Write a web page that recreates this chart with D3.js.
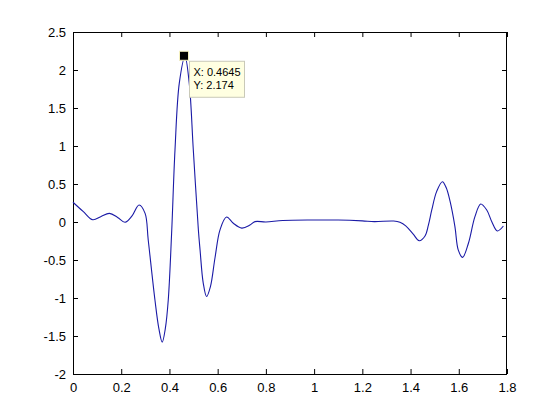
<!DOCTYPE html>
<html>
<head>
<meta charset="utf-8">
<script src="https://cdn.jsdelivr.net/npm/d3@7"></script>
<style>
  body { margin: 0; background: #fff; }
  svg { display: block; font-family: Arial, "Liberation Sans", sans-serif; }
</style>
</head>
<body>
<svg id="chart" width="560" height="420"></svg>
<script>
// signal samples
const xs = [0, 0.043, 0.082, 0.115, 0.151, 0.185, 0.216, 0.245, 0.274, 0.299, 0.312,
  0.34, 0.356, 0.370, 0.383, 0.395, 0.409, 0.423, 0.441, 0.4645, 0.482, 0.499,
  0.52, 0.527, 0.54, 0.554, 0.57, 0.589, 0.61, 0.637, 0.665, 0.70, 0.734, 0.755,
  0.80, 0.87, 1.0, 1.1, 1.2, 1.25, 1.33, 1.356, 1.38, 1.411, 1.436, 1.46, 1.474, 1.488,
  1.508, 1.532, 1.548, 1.564, 1.584, 1.598, 1.616, 1.64, 1.667, 1.691, 1.716, 1.737,
  1.76, 1.785];
const ys = [0.26, 0.136, 0.03, 0.07, 0.114, 0.06, -0.004, 0.08, 0.224, 0.114, -0.237,
  -1.03, -1.40, -1.58, -1.40, -1.03, -0.149, 0.947, 1.83, 2.174, 1.83, 0.947,
  -0.105, -0.368, -0.80, -0.98, -0.85, -0.47, -0.10, 0.065, -0.017, -0.08, -0.04, 0.005,
  0.0, 0.02, 0.026, 0.026, 0.015, 0.005, 0.013, -0.004, -0.05, -0.16, -0.246, -0.184, -0.04, 0.158,
  0.40, 0.53, 0.45, 0.27, -0.06, -0.37, -0.465, -0.28, 0.07, 0.237, 0.158, 0.004,
  -0.118, -0.053];

const xTicks = [0, 0.2, 0.4, 0.6, 0.8, 1, 1.2, 1.4, 1.6, 1.8];
const yTicks = [-2, -1.5, -1, -0.5, 0, 0.5, 1, 1.5, 2, 2.5];

// data tip
const tipX = 0.4645;
const tipY = 2.174;
const tipLines = ['X: 0.4645', 'Y: 2.174'];

const margin = { left: 73, top: 32, right: 53, bottom: 46 };
const svg = d3.select('#chart');
const W = 560, H = 420;
const innerW = W - margin.left - margin.right;
const innerH = H - margin.top - margin.bottom;

const x = d3.scaleLinear().domain([0, 1.8]).range([margin.left, margin.left + innerW]);
const y = d3.scaleLinear().domain([-2, 2.5]).range([margin.top + innerH, margin.top]);

const fmt = d => String(+d.toFixed(1));
const tickLen = 5;

// axes: ticks point inward, mirrored on top/right
const gx = svg.append('g').attr('transform', `translate(0,${y(-2)})`)
  .call(d3.axisBottom(x).tickValues(xTicks).tickFormat(fmt).tickSizeInner(-tickLen).tickSizeOuter(0).tickPadding(9));
const gxTop = svg.append('g').attr('transform', `translate(0,${y(2.5)})`)
  .call(d3.axisTop(x).tickValues(xTicks).tickFormat('').tickSizeInner(-tickLen).tickSizeOuter(0));
const gy = svg.append('g').attr('transform', `translate(${x(0)},0)`)
  .call(d3.axisLeft(y).tickValues(yTicks).tickFormat(fmt).tickSizeInner(-tickLen).tickSizeOuter(0).tickPadding(7));
const gyRight = svg.append('g').attr('transform', `translate(${x(1.8)},0)`)
  .call(d3.axisRight(y).tickValues(yTicks).tickFormat('').tickSizeInner(-tickLen).tickSizeOuter(0));

[gx, gxTop, gy, gyRight].forEach(g => {
  g.selectAll('.domain').remove();
  g.selectAll('line').attr('stroke', '#000');
  g.selectAll('text').attr('font-size', 13).attr('fill', '#000')
    .attr('font-family', 'Arial, "Liberation Sans", sans-serif');
});

svg.append('rect')
  .attr('x', x(0) + 0.5).attr('y', y(2.5) + 0.5)
  .attr('width', x(1.8) - x(0) - 1).attr('height', y(-2) - y(2.5))
  .attr('fill', 'none').attr('stroke', '#000');

const pts = xs.map((v, i) => [v, ys[i]]);
const line = d3.line()
  .x(d => x(d[0]))
  .y(d => y(d[1]))
  .curve(d3.curveCatmullRom.alpha(0.5));

svg.append('path')
  .datum(pts)
  .attr('d', line)
  .attr('fill', 'none')
  .attr('stroke', '#1a1aa6')
  .attr('stroke-width', 1.1);

// datatip marker + label box
const px = x(tipX) - 1, py = y(tipY) - 1;
svg.append('rect')
  .attr('x', px - 4.5).attr('y', py - 4.5).attr('width', 9).attr('height', 9)
  .attr('fill', '#000').attr('stroke', '#f4f0c0').attr('stroke-width', 1);

const bx = px + 5.5, by = py + 5.5;
svg.append('rect')
  .attr('x', bx).attr('y', by).attr('width', 55).attr('height', 36)
  .attr('fill', '#ffffe1').attr('stroke', '#c9c9b8');

svg.append('g').selectAll('text').data(tipLines).enter().append('text')
  .attr('x', bx + 4).attr('y', (d, i) => by + 15 + i * 12.5)
  .attr('font-size', 11)
  .attr('fill', '#000')
  .text(d => d);
</script>
</body>
</html>
